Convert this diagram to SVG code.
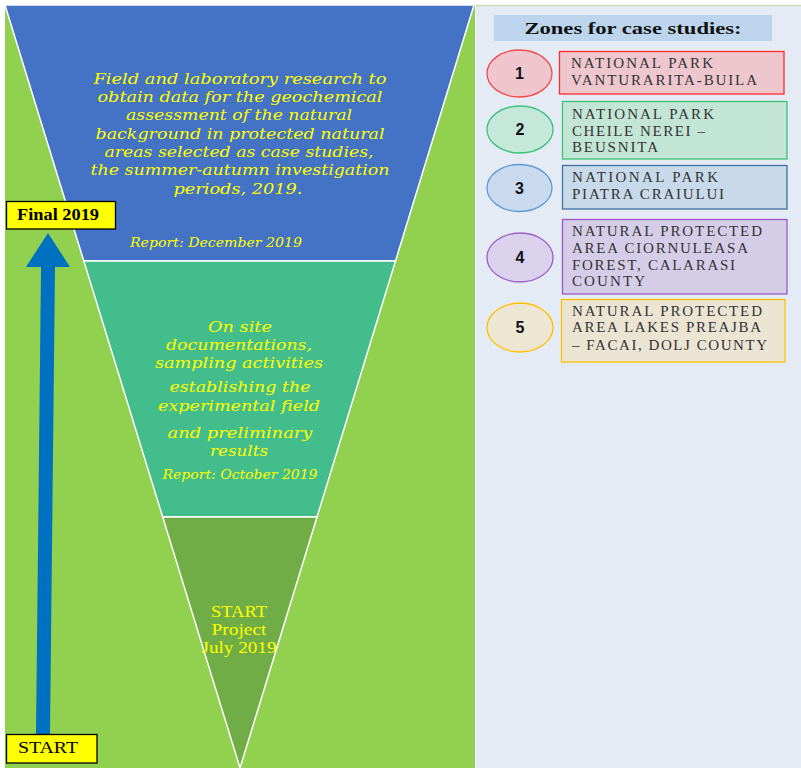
<svg xmlns="http://www.w3.org/2000/svg" width="801" height="768" viewBox="0 0 801 768">
<defs>
<style>
.ft{font-family:"DejaVu Serif","Liberation Serif",serif;font-style:italic;font-size:15.5px;fill:#ffff00;text-anchor:middle}
.fs{font-size:15px}
.rp{font-family:"DejaVu Serif","Liberation Serif",serif;font-style:italic;font-size:12.5px;fill:#ffff00;text-anchor:middle}
.st{font-family:"Liberation Serif",serif;font-size:16px;fill:#ffff00;text-anchor:middle}
.bx{font-family:"Liberation Serif",serif;font-size:15px;fill:#333333}
.num{font-family:"Liberation Sans",Arial,sans-serif;font-weight:bold;font-size:16px;fill:#111111;text-anchor:middle}
.lab{font-family:"Liberation Serif",serif;font-size:17px;fill:#000000}
.seg{stroke:#ffffff;stroke-width:1.5}
</style>
</defs>
<rect x="0" y="0" width="801" height="768" fill="#ffffff"/>
<rect x="5" y="5" width="470" height="763" fill="#92d050"/>
<rect x="475" y="5" width="326" height="763" fill="#e4ebf5"/>
<line x1="475" y1="5.5" x2="801" y2="5.5" stroke="#c5e0b4" stroke-width="1.5"/>
<line x1="475.5" y1="5" x2="475.5" y2="768" stroke="#f4f7fb" stroke-width="1"/>

<g id="funnel-top">
<polygon class="seg" points="5,5 474,5 395.5,261 83.8,261" fill="#4472c4"/>
<text class="ft" x="240" y="84" textLength="293" lengthAdjust="spacingAndGlyphs">Field and laboratory research to</text>
<text class="ft" x="240" y="102" textLength="285" lengthAdjust="spacingAndGlyphs">obtain data for the geochemical</text>
<text class="ft" x="239" y="120" textLength="226" lengthAdjust="spacingAndGlyphs">assessment of the natural</text>
<text class="ft" x="240" y="139" textLength="289" lengthAdjust="spacingAndGlyphs">background in protected natural</text>
<text class="ft" x="239" y="157" textLength="269" lengthAdjust="spacingAndGlyphs">areas selected as case studies,</text>
<text class="ft" x="240" y="175" textLength="299" lengthAdjust="spacingAndGlyphs">the summer-autumn investigation</text>
<text class="ft" x="238" y="194" textLength="129" lengthAdjust="spacingAndGlyphs">periods, 2019.</text>
<text class="rp" x="216" y="247" textLength="172" lengthAdjust="spacingAndGlyphs">Report: December 2019</text>
</g>

<g id="funnel-middle">
<polygon class="seg" points="83.8,261 395.5,261 317,517 162.7,517" fill="#43bd8c"/>
<text class="ft" x="240" y="332" textLength="64" lengthAdjust="spacingAndGlyphs">On site</text>
<text class="ft" x="239" y="350" textLength="146" lengthAdjust="spacingAndGlyphs">documentations,</text>
<text class="ft" x="239" y="368" textLength="168" lengthAdjust="spacingAndGlyphs">sampling activities</text>
<text class="ft" x="240" y="392" textLength="141" lengthAdjust="spacingAndGlyphs">establishing the</text>
<text class="ft" x="239" y="411" textLength="162" lengthAdjust="spacingAndGlyphs">experimental field</text>
<text class="ft fs" x="240" y="437.5" textLength="145" lengthAdjust="spacingAndGlyphs">and preliminary</text>
<text class="ft fs" x="239" y="455.5" textLength="58" lengthAdjust="spacingAndGlyphs">results</text>
<text class="rp" x="240" y="479" textLength="155" lengthAdjust="spacingAndGlyphs">Report: October 2019</text>
</g>

<g id="funnel-bottom">
<polygon class="seg" points="162.7,517 317,517 240,768" fill="#70ad47"/>
<text class="st" x="239" y="617" textLength="56" lengthAdjust="spacingAndGlyphs">START</text>
<text class="st" x="239" y="635" textLength="55" lengthAdjust="spacingAndGlyphs">Project</text>
<text class="st" x="239" y="652.5" textLength="75" lengthAdjust="spacingAndGlyphs">July 2019</text>
</g>

<g id="connectors">
<polygon points="36,734 50,734 55,267 70,267 48,233 26,267 41,267" fill="#0070c0"/>
</g>

<g id="final-2019">
<rect x="6.5" y="201.5" width="109" height="27.5" fill="#ffff00" stroke="#000000" stroke-width="1.3"/>
<text class="lab" x="17" y="220" font-weight="bold" textLength="82" lengthAdjust="spacingAndGlyphs">Final 2019</text>
</g>

<g id="start">
<rect x="6.5" y="734.5" width="90.5" height="28.5" fill="#ffff00" stroke="#000000" stroke-width="1.3"/>
<text class="lab" x="18" y="753" textLength="60" lengthAdjust="spacingAndGlyphs">START</text>
</g>

<g id="zones-header">
<rect x="494" y="15" width="278" height="26" fill="#bcd5ec"/>
<text x="633" y="34" font-family="Liberation Serif,serif" font-weight="bold" font-size="17" fill="#111111" text-anchor="middle" textLength="217" lengthAdjust="spacingAndGlyphs">Zones for case studies:</text>
</g>

<g id="zone-1">
<ellipse cx="519.5" cy="73.5" rx="32.5" ry="23.5" fill="#f0c6ce" stroke="#f04a4a" stroke-width="1.3"/>
<text class="num" x="519.5" y="79">1</text>
<rect x="559.5" y="51.5" width="224.5" height="42.5" fill="#eec6ce" stroke="#ff2a2a" stroke-width="1.3"/>
<text class="bx" x="571" y="68" textLength="142" lengthAdjust="spacing">NATIONAL PARK</text>
<text class="bx" x="571" y="84.5" textLength="186" lengthAdjust="spacing">VANTURARITA-BUILA</text>
</g>

<g id="zone-2">
<ellipse cx="520" cy="129.5" rx="33" ry="23.5" fill="#c6e8da" stroke="#3cc27a" stroke-width="1.3"/>
<text class="num" x="520" y="135">2</text>
<rect x="562.5" y="101.5" width="224.5" height="57.5" fill="#c3e5d6" stroke="#3dc27a" stroke-width="1.3"/>
<text class="bx" x="572" y="119" textLength="142" lengthAdjust="spacing">NATIONAL PARK</text>
<text class="bx" x="572" y="135.5" textLength="133" lengthAdjust="spacing">CHEILE NEREI –</text>
<text class="bx" x="572" y="152" textLength="86" lengthAdjust="spacing">BEUSNITA</text>
</g>

<g id="zone-3">
<ellipse cx="519.5" cy="188" rx="32.5" ry="23.5" fill="#c9daee" stroke="#5b9bd5" stroke-width="1.3"/>
<text class="num" x="519.5" y="193.5">3</text>
<rect x="562.5" y="165.5" width="224.5" height="43.5" fill="#c8d9ea" stroke="#41719c" stroke-width="1.3"/>
<text class="bx" x="572" y="182" textLength="146" lengthAdjust="spacing">NATIONAL  PARK</text>
<text class="bx" x="572" y="198.5" textLength="152" lengthAdjust="spacing">PIATRA CRAIULUI</text>
</g>

<g id="zone-4">
<ellipse cx="520" cy="257.5" rx="33" ry="24.5" fill="#dad2ec" stroke="#9a5fc8" stroke-width="1.3"/>
<text class="num" x="520" y="263">4</text>
<rect x="562.5" y="219.5" width="224.5" height="74.5" fill="#d5cde8" stroke="#9b59c6" stroke-width="1.3"/>
<text class="bx" x="572" y="236" textLength="190" lengthAdjust="spacing">NATURAL PROTECTED</text>
<text class="bx" x="572" y="252.5" textLength="176" lengthAdjust="spacing">AREA CIORNULEASA</text>
<text class="bx" x="572" y="270" textLength="163" lengthAdjust="spacing">FOREST, CALARASI</text>
<text class="bx" x="572" y="286" textLength="73" lengthAdjust="spacing">COUNTY</text>
</g>

<g id="zone-5">
<ellipse cx="520" cy="327.5" rx="33" ry="24.5" fill="#ede6d2" stroke="#ffc000" stroke-width="1.3"/>
<text class="num" x="520" y="333">5</text>
<rect x="561.5" y="299.5" width="223.5" height="62.5" fill="#ebe4d3" stroke="#ffc000" stroke-width="1.3"/>
<text class="bx" x="572" y="315.5" textLength="190" lengthAdjust="spacing">NATURAL PROTECTED</text>
<text class="bx" x="572" y="332" textLength="189" lengthAdjust="spacing">AREA LAKES PREAJBA</text>
<text class="bx" x="572" y="350" textLength="195" lengthAdjust="spacing">– FACAI, DOLJ COUNTY</text>
</g>
</svg>
